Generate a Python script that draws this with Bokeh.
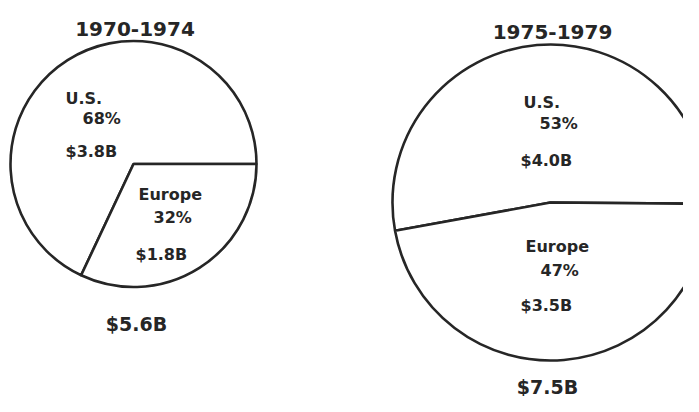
import math
from bokeh.plotting import figure
from bokeh.models import Range1d
from bokeh.core.properties import value
from bokeh.embed import file_html
from bokeh.resources import INLINE

# ---- data ----
periods = ["1970-1974", "1975-1979"]
regions = ["U.S.", "Europe"]
us_share = [68, 53]          # percent
europe_share = [32, 47]      # percent
us_value = [3.8, 4.0]        # $ billions
europe_value = [1.8, 3.5]    # $ billions
totals = [5.6, 7.5]          # $ billions

# ---- layout (pixels, measured from the top-left of the chart) ----
W, H = 683, 396
REF_H = 412

def Y(ys):  # pixel y (downwards) -> data y (upwards)
    return REF_H - ys

centers = [(133, 163.5), (550, 202)]
radii = [123, 158]
start_deg = [0.0, -0.5]

# label offsets (left, baseline) relative to pie centre
label_off = [
    {"U.S.": [(-68, -66), (-51, -46), (-68, -13)],
     "Europe": [(5, 30), (20, 53), (2, 90)]},
    {"U.S.": [(-27, -100), (-11, -79), (-30, -42)],
     "Europe": [(-25, 44), (-10, 68), (-30, 103)]},
]
title_pos = [(134.5, 28), (552, 31)]
total_pos = [(136, 323), (547, 386)]

INK = "#262626"
FONT = "DejaVu Sans"

p = figure(width=W, height=H, output_backend="svg", toolbar_location=None,
           x_range=Range1d(0, W),
           y_range=Range1d(REF_H - H, REF_H),
           min_border=0, outline_line_color=None,
           background_fill_color="white", border_fill_color="white")
p.axis.visible = False
p.xgrid.visible = False
p.ygrid.visible = False

for i in range(len(periods)):
    cx, cy = centers[i]
    r = radii[i]
    s0 = math.radians(start_deg[i])
    s1 = s0 + us_share[i] / 100.0 * 2 * math.pi
    s2 = s1 + europe_share[i] / 100.0 * 2 * math.pi
    p.wedge(x=[cx, cx], y=[Y(cy), Y(cy)], radius=r,
            start_angle=[s0, s1], end_angle=[s1, s2],
            fill_color="white", line_color=INK, line_width=2.6)

    texts = {
        "U.S.": [regions[0], f"{us_share[i]}%", f"${us_value[i]:.1f}B"],
        "Europe": [regions[1], f"{europe_share[i]}%", f"${europe_value[i]:.1f}B"],
    }
    for reg in ("U.S.", "Europe"):
        xs = [cx + o[0] for o in label_off[i][reg]]
        ys = [Y(cy + o[1]) for o in label_off[i][reg]]
        p.text(x=xs, y=ys, text=texts[reg], text_font=value(FONT),
               text_font_style="bold", text_font_size="16px",
               text_color=INK, text_align="left", text_baseline="alphabetic")

    tx, ty = title_pos[i]
    p.text(x=[tx], y=[Y(ty)], text=[periods[i]], text_font=value(FONT),
           text_font_style="bold", text_font_size="20px", text_color=INK,
           text_align="center", text_baseline="alphabetic")
    bx, by = total_pos[i]
    p.text(x=[bx], y=[Y(by)], text=[f"${totals[i]:.1f}B"], text_font=value(FONT),
           text_font_style="bold", text_font_size="19px", text_color=INK,
           text_align="center", text_baseline="alphabetic")

open("out.html", "w").write(file_html(p, INLINE))
